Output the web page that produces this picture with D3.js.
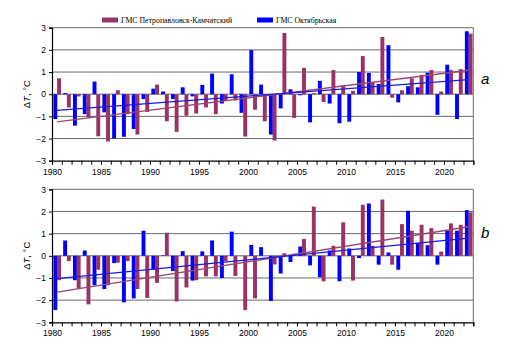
<!DOCTYPE html>
<html lang="ru">
<head>
<meta charset="UTF-8">
<title>ΔT bars</title>
<script src="https://cdn.jsdelivr.net/npm/d3@7"></script>
<style>
  body { margin: 0; background: #fff; }
  svg { display: block; }
</style>
</head>
<body>
<div id="chart"></div>
<script>
// years 1980..2022
var years = d3.range(1980, 2023);

// panel a
var aPetro = [0.72, -0.6, -0.1, -1.05, -1.9, -2.13, 0.18, -0.9, -1.82, -0.8,
  0.43, -1.22, -1.7, -0.97, -0.87, -0.6, -0.9, -0.3, -0.28, -1.91,
  -0.7, -1.22, -2.09, 2.76, -1.07, 1.19, 0.05, -0.35, 1.09, 0.39,
  0.15, 1.72, 0.55, 2.58, -0.16, 0.18, 0.72, 0.87, 1.09, 0.12,
  1.09, 1.13, 2.73];
var aOkt = [-1.12, 0.05, -1.42, -0.9, 0.57, -0.82, -2.0, -1.92, -1.57, -0.22,
  0.25, 0.12, -0.22, 0.31, -0.1, 0.42, 0.93, -0.42, 0.9, -0.84,
  1.99, 0.43, -1.82, -0.64, 0.22, -0.05, -1.27, 0.6, -0.42, -1.31,
  -1.24, 1.0, 0.96, 0.46, 2.21, -0.37, 0.36, 0.31, 0.97, -0.93,
  1.33, -1.12, 2.84];

// panel b
var bPetro = [-1.1, -0.24, -1.48, -2.19, -0.63, -1.33, -0.31, -0.24, -1.5, -1.9,
  -1.22, 1.04, -2.06, -1.43, -1.1, -0.93, -0.93, -0.24, -0.91, -2.45,
  -1.92, 0, -0.39, 0.12, 0.09, 0.76, 2.22, -1.15, 0.45, 1.51,
  -1.12, 2.3, 0.45, 2.54, -0.4, 1.43, 1.13, 1.4, 1.25, 0.19,
  1.46, 1.4, 1.96];
var bOkt = [-2.45, 0.69, -1.1, 0.24, -1.33, -1.5, -0.33, -2.1, -1.92, 1.13,
  -0.63, 0.02, -0.69, 0.21, -1.12, 0.2, 0.69, -1.0, 1.09, 0,
  0.49, 0.39, -2.04, -0.8, -0.28, 0.42, -0.43, -0.96, 0.24, -1.15,
  0.33, -0.1, 2.36, -0.4, 0.15, -0.63, 2.03, 0.58, 0.48, -0.4,
  1.13, 1.13, 2.06];

// trend lines, value at 1980 and at 2022
var aTrendPetro = [-1.25, 1.08];
var aTrendOkt = [-0.73, 0.66];
var bTrendPetro = [-1.64, 1.31];
var bTrendOkt = [-1.03, 0.8];

var yTicks = [-3, -2, -1, 0, 1, 2, 3];
var seriesNames = ["ГМС Петропавловск-Камчатский", "ГМС Октябрьская"];

var purple = "#993366", blue = "#0000ff";

var W = 505, H = 353;
var left = 52, right = 473.3;

var svg = d3.select("#chart").append("svg")
  .attr("width", W)
  .attr("height", H)
  .style("font-family", "'Liberation Sans', Arial, sans-serif");

var x = d3.scaleLinear().domain([1980, 2023]).range([left, right]);
var bw = x(1981) - x(1980);

function panel(top, bottom, petro, okt, trPetro, trOkt, letter, letterAt) {
  var y = d3.scaleLinear().domain([-3, 3]).range([bottom, top]);
  var g = svg.append("g");

  // grid
  g.selectAll(".grid").data(yTicks.slice(1)).enter().append("line")
    .attr("x1", left).attr("x2", right)
    .attr("y1", d => y(d)).attr("y2", d => y(d))
    .attr("stroke", "#6a6a6a").attr("stroke-width", 1);

  // right border
  g.append("line")
    .attr("x1", right).attr("x2", right)
    .attr("y1", y(3)).attr("y2", y(-3))
    .attr("stroke", "#6a6a6a");

  // bars
  g.selectAll(".bo").data(okt).enter().append("rect")
    .attr("x", (d, i) => x(years[i]) + bw * 0.14)
    .attr("width", bw * 0.4)
    .attr("y", d => y(Math.max(0, d)))
    .attr("height", d => Math.abs(y(d) - y(0)))
    .attr("fill", blue);
  g.selectAll(".bp").data(petro).enter().append("rect")
    .attr("x", (d, i) => x(years[i]) + bw * 0.52)
    .attr("width", bw * 0.4)
    .attr("y", d => y(Math.max(0, d)))
    .attr("height", d => Math.abs(y(d) - y(0)))
    .attr("fill", purple);

  // trend lines
  var ends = [years[0], years[years.length - 1]];
  [[trPetro, "#9c4670"], [trOkt, "#1a1ae6"]].forEach(function (t) {
    g.append("line")
      .attr("x1", x(ends[0]) + bw / 2).attr("x2", x(ends[1]) + bw / 2)
      .attr("y1", y(t[0][0])).attr("y2", y(t[0][1]))
      .attr("stroke", t[1]).attr("stroke-width", 1.3);
  });

  // axes
  var ya = g.append("g")
    .attr("transform", "translate(" + left + ",0)")
    .call(d3.axisLeft(y).tickValues(yTicks).tickSize(3).tickPadding(3).tickFormat(d3.format("d")));
  ya.selectAll("text").style("font-size", "8.5px").attr("fill", "#000");

  var xa = g.append("g")
    .attr("transform", "translate(0," + bottom + ")")
    .call(d3.axisBottom(x).tickValues(d3.range(1980, 2024)).tickSize(4).tickPadding(4)
      .tickFormat(d => (d % 5 == 0 && d < 2023) ? d : ""));
  xa.selectAll("text").style("font-size", "8.5px").attr("fill", "#000");

  [ya, xa].forEach(a => {
    a.select(".domain").attr("stroke", "#000").attr("stroke-width", 1.2);
    a.selectAll(".tick line").attr("stroke", "#000");
  });

  // y label
  var lab = g.append("text")
    .attr("transform", "translate(30," + (top + bottom) / 2 + ") rotate(-90)")
    .attr("text-anchor", "middle")
    .style("font-size", "9.5px");
  lab.append("tspan").text("Δ");
  lab.append("tspan").style("font-style", "italic").text("T");
  lab.append("tspan").text(", °C");

  // panel letter
  g.append("text")
    .attr("x", 481).attr("y", y(letterAt))
    .attr("dominant-baseline", "middle")
    .style("font-size", "15px")
    .style("font-style", "italic")
    .text(letter);
}

panel(27.7, 160.7, aPetro, aOkt, aTrendPetro, aTrendOkt, "a", 0.62);
panel(189.3, 322.3, bPetro, bOkt, bTrendPetro, bTrendOkt, "b", 1.0);

// legend
var legend = svg.append("g").style("font-family", "'Liberation Serif', 'Times New Roman', serif");
var legItems = [
  { name: seriesNames[0], color: purple, x: 102 },
  { name: seriesNames[1], color: blue, x: 257 }
];
legItems.forEach(function (d) {
  legend.append("rect")
    .attr("x", d.x).attr("y", 17.5).attr("width", 16).attr("height", 5)
    .attr("fill", d.color);
  legend.append("text")
    .attr("x", d.x + 19).attr("y", 23)
    .style("font-size", "7.8px")
    .text(d.name);
});
</script>
</body>
</html>
